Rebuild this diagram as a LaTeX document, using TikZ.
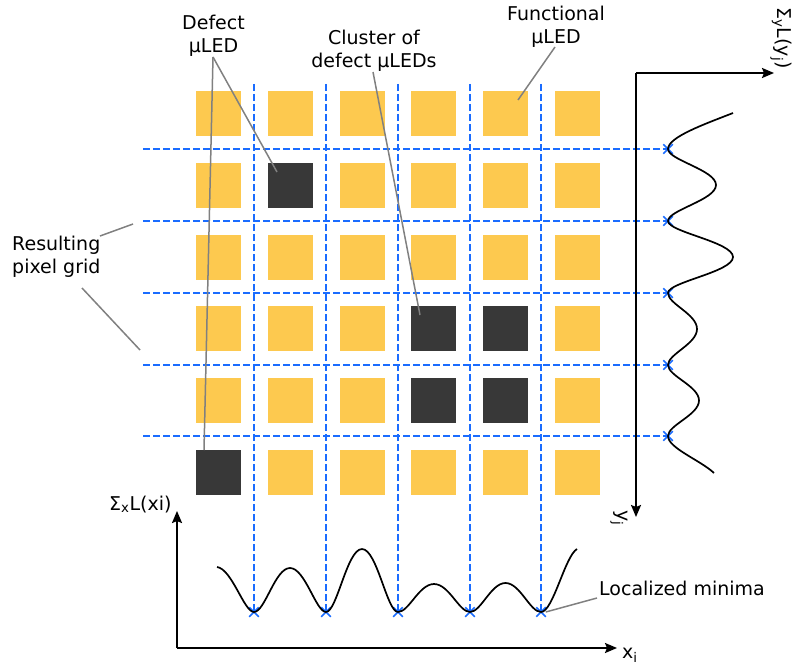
\documentclass[tikz,border=0pt]{standalone}
\usepackage{fontspec}
\setmainfont{DejaVu Sans}
\usetikzlibrary{arrows.meta,shapes.misc}
\definecolor{ledyellow}{RGB}{253,201,79}
\definecolor{leddark}{RGB}{56,56,56}
\definecolor{gridblue}{RGB}{26,108,255}
\definecolor{callgray}{RGB}{128,128,128}
\begin{document}
\begin{tikzpicture}[x=1pt,y=-1pt,
  every node/.style={font=\fontsize{19}{23}\selectfont},
  led/.style={fill=ledyellow,minimum size=45pt,inner sep=0pt,outer sep=0pt},
  defectled/.style={led,fill=leddark},
  gridline/.style={gridblue,line width=2pt,dash pattern=on 7pt off 3pt},
  minmark/.style={draw=gridblue,cross out,line width=1.5pt,minimum size=8pt,inner sep=0pt},
  callout/.style={callgray,line width=1.5pt},
  axisline/.style={black,line width=2pt,-{Stealth[length=12pt,width=10pt,inset=2pt]}},
  curve/.style={black,line width=1.7pt},
  label/.style={inner sep=0pt,align=center}]
\useasboundingbox (0,0) rectangle (794,666);

% LED array
\foreach \i in {0,...,5}{
  \foreach \j in {0,...,5}{
    \node[led] (s\i\j) at ({218.5+71.8*\i},{113.5+71.8*\j}) {};
  }
}
\node[defectled] at (s11) {};
\node[defectled] at (s05) {};
\node[defectled] at (s33) {};
\node[defectled] at (s43) {};
\node[defectled] at (s34) {};
\node[defectled] at (s44) {};

% grid lines and minima marks
\foreach \k/\vx/\hy in {0/254/149,1/326/221,2/398/293,3/470/365,4/541/436}{
  \node[minmark] (bx\k) at (\vx,612) {};
  \node[minmark] (rx\k) at (668,\hy) {};
  \coordinate (vt\k) at (\vx,84);
  \coordinate (hl\k) at (143,\hy);
  \draw[gridline] (vt\k) -- (bx\k.center);
  \draw[gridline] (hl\k) -- (rx\k.center);
}

% right axis
\coordinate (ro) at (636,73);
\coordinate (rxend) at (774,73);
\coordinate (ryend) at (636,517);
\draw[axisline] (ro) -- (rxend);
\draw[axisline] (ro) -- (ryend);
\node[label,rotate=-90] (ylab) at (781,38) {Σ\textsubscript{y}L(y\textsubscript{j})};
\node[label,rotate=-90] (yj) at (619,518) {y\textsubscript{j}};

% bottom axis
\coordinate (bo) at (177,648);
\coordinate (bxend) at (617,648);
\coordinate (byend) at (177,511);
\draw[axisline] (bo) -- (bxend);
\draw[axisline] (bo) -- (byend);
\node[label,anchor=base west] (xlab) at (109,510) {Σ\textsubscript{x}L(xi)};
\node[label,anchor=base west] (xi) at (622,658) {x\textsubscript{i}};

% right profile
\draw[curve] (733,113) .. controls (705,124) and (668,137) .. (rx0.center)
  .. controls (668,160) and (716,170) .. (716,185)
  .. controls (716,200) and (668,210) .. (rx1.center)
  .. controls (668,232) and (733,242) .. (733,257)
  .. controls (733,272) and (668,282) .. (rx2.center)
  .. controls (668,304) and (697,314) .. (697,329)
  .. controls (697,344) and (668,354) .. (rx3.center)
  .. controls (668,376) and (699,386) .. (699,400.5)
  .. controls (699,415) and (668,425) .. (rx4.center)
  .. controls (668,448) and (700,460) .. (714,473);

% bottom profile
\draw[curve] (217,567) .. controls (232,569) and (244,612) .. (bx0.center)
  .. controls (265,612) and (275,568) .. (290,568)
  .. controls (305,568) and (316,612) .. (bx1.center)
  .. controls (337,612) and (347,549) .. (362,549)
  .. controls (377,549) and (387,612) .. (bx2.center)
  .. controls (409,612) and (419,584) .. (434,584)
  .. controls (449,584) and (459,612) .. (bx3.center)
  .. controls (481,612) and (491,583) .. (505.5,583)
  .. controls (520,583) and (530,612) .. (bx4.center)
  .. controls (553,612) and (565,556) .. (577,549);

% callouts
\node[label] (defect) at (213.5,35.3) {Defect\\μLED};
\node[label] (cluster) at (374,51) {Cluster of\\defect μLEDs};
\node[label] (functional) at (556,26.3) {Functional\\μLED};
\node[label,align=left,anchor=west] (grid) at (12,256.5) {Resulting\\pixel grid};
\node[label,anchor=base west] (minima) at (599,595) {Localized minima};

\coordinate (dA) at (213,57);
\coordinate (dB) at (277,172);
\coordinate (dC) at (204,450);
\draw[callout] (dA) -- (dB);
\draw[callout] (dA) -- (dC);
\coordinate (cA) at (373,72);
\coordinate (cB) at (420,315);
\draw[callout] (cA) -- (cB);
\coordinate (fA) at (555,47);
\coordinate (fB) at (518,100);
\draw[callout] (fA) -- (fB);
\coordinate (gA) at (100,236);
\coordinate (gB) at (133,224);
\coordinate (gC) at (82,288);
\coordinate (gD) at (140,350);
\draw[callout] (gA) -- (gB);
\draw[callout] (gC) -- (gD);
\coordinate (mA) at (597,598);
\draw[callout] (mA) -- (bx4.east);
\end{tikzpicture}
\end{document}
